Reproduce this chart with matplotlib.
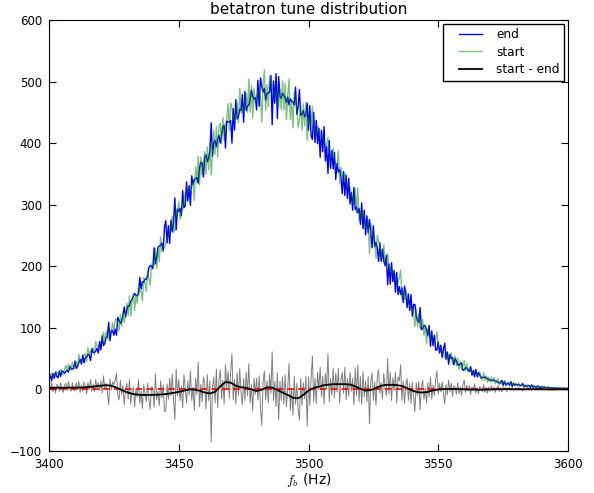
import matplotlib
matplotlib.use('Agg')
import matplotlib.pyplot as plt
from matplotlib.lines import Line2D
from matplotlib.legend_handler import HandlerLine2D
import numpy as np

plt.rcParams.update({'font.size': 9, 'mathtext.fontset': 'cm'})

# counts at the end of the store, 0.5 Hz bins from 3400 to 3600 Hz
end = [
    17, 23, 14, 26, 18, 28, 21, 19, 30, 21, 30, 29, 26, 29, 31, 28, 37, 34, 33, 34,
    46, 34, 37, 44, 49, 41, 56, 43, 52, 52, 57, 56, 47, 66, 60, 60, 62, 67, 59, 78,
    64, 87, 71, 75, 84, 86, 109, 79, 95, 96, 88, 98, 88, 117, 112, 107, 111, 120, 134, 118,
    130, 136, 136, 143, 146, 151, 156, 153, 152, 155, 182, 163, 175, 174, 179, 179, 184, 198, 201, 200,
    196, 230, 204, 214, 231, 233, 234, 238, 225, 264, 274, 238, 266, 237, 275, 256, 272, 311, 259, 293,
    289, 294, 282, 323, 295, 298, 337, 306, 331, 299, 347, 333, 341, 343, 344, 335, 360, 369, 368, 345,
    377, 381, 370, 375, 387, 433, 379, 401, 404, 394, 407, 413, 400, 414, 427, 429, 392, 436, 434, 434,
    437, 400, 456, 421, 471, 439, 443, 455, 453, 479, 434, 484, 453, 460, 462, 472, 486, 476, 471, 474,
    454, 502, 460, 506, 492, 483, 489, 470, 481, 481, 483, 510, 430, 501, 465, 513, 440, 508, 476, 473,
    481, 478, 474, 466, 475, 462, 472, 468, 467, 462, 491, 447, 458, 487, 445, 447, 453, 443, 445, 465,
    421, 461, 412, 406, 450, 401, 437, 399, 424, 377, 421, 386, 427, 371, 395, 351, 404, 359, 388, 358,
    385, 341, 367, 353, 357, 345, 318, 354, 315, 348, 310, 343, 301, 320, 291, 328, 292, 296, 287, 294,
    268, 303, 261, 291, 251, 282, 254, 276, 257, 230, 266, 232, 239, 230, 208, 238, 208, 228, 209, 201,
    218, 170, 204, 171, 206, 175, 193, 158, 190, 154, 167, 154, 165, 141, 168, 155, 133, 155, 128, 154,
    119, 138, 138, 120, 112, 109, 133, 97, 99, 104, 103, 97, 87, 104, 70, 95, 71, 88, 64, 64,
    77, 59, 72, 52, 66, 75, 49, 61, 41, 57, 50, 52, 40, 50, 46, 40, 39, 42, 43, 31,
    32, 35, 35, 31, 29.5, 37, 23, 31, 20.5, 32.5, 20.5, 27.5, 23.5, 18.5, 19.5, 19.5, 20, 19, 17.5, 15.5,
    15.4, 14.3, 14.6, 15, 13.9, 12.9, 11.3, 10.3, 10.8, 14.8, 6.4, 13.5, 7.2, 9.5, 10.2, 6.4, 12.7, 4.9, 10.2, 6.4,
    8.2, 7.2, 7.8, 6.1, 6.9, 9.6, 4.1, 6.7, 4.9, 5.6, 6.2, 3.1, 7.6, 3.5, 5.4, 3.6, 3.8, 5.9, 2.3, 4.4,
    3.8, 3.0, 3.6, 2.7, 3.0, 3.2, 2.3, 2.8, 2.1, 2.5, 2.3, 1.7, 2.4, 1.7, 2.2, 1.6, 1.8, 2.1, 1.3, 1.7, 1.8,
]

# counts at the start of the store, same bins
start = [
    26, 22, 26, 22, 23, 22, 29, 25, 27, 32, 30, 24, 33, 39, 29, 41, 38, 31, 44, 33,
    44, 45, 37, 57, 44, 48, 53, 55, 58, 45, 68, 56, 63, 63, 68, 56, 78, 70, 70, 76,
    78, 81, 93, 76, 94, 82, 84, 96, 94, 108, 96, 113, 114, 108, 95, 122, 103, 126, 109, 119,
    140, 120, 152, 119, 144, 155, 128, 153, 140, 171, 159, 160, 144, 182, 172, 159, 194, 182, 169, 204,
    199, 201, 229, 197, 228, 207, 248, 224, 232, 229, 238, 247, 250, 255, 265, 281, 255, 262, 292, 283,
    305, 276, 287, 293, 319, 300, 315, 320, 322, 329, 329, 337, 307, 361, 336, 379, 332, 377, 348, 365,
    386, 349, 394, 357, 401, 348, 382, 421, 382, 427, 377, 427, 432, 399, 442, 405, 432, 438, 464, 420,
    466, 458, 439, 437, 447, 466, 433, 489, 449, 454, 452, 466, 481, 450, 504, 450, 494, 441, 489, 466,
    472, 485, 482, 476, 434, 496, 519, 453, 495, 459, 508, 504, 491, 483, 478, 485, 467, 458, 489, 455,
    501, 454, 497, 438, 478, 504, 438, 470, 425, 483, 467, 457, 426, 437, 463, 421, 464, 428, 466, 405,
    441, 435, 430, 460, 430, 419, 414, 427, 424, 413, 409, 408, 403, 397, 397, 409, 384, 377, 378, 392,
    371, 367, 363, 387, 335, 361, 346, 348, 351, 331, 328, 332, 329, 317, 309, 303, 327, 286, 327, 274,
    289, 279, 290, 279, 265, 262, 275, 220, 270, 257, 248, 244, 213, 250, 240, 232, 219, 213, 235, 203,
    208, 220, 196, 199, 188, 194, 191, 186, 168, 174, 181, 194, 147, 155, 146, 162, 151, 137, 138, 131,
    131, 127, 102, 131, 102, 122, 100, 102, 114, 88, 105, 75, 98, 92, 90, 79, 78, 78, 80, 94,
    69, 69, 68, 64, 60, 52, 57, 52, 56, 53, 60, 41, 46, 54, 38, 51, 32, 46, 33, 39,
    47, 30, 42, 28, 35.5, 29, 27, 29, 29.5, 26.5, 23.5, 20.5, 28.5, 20.5, 15.5, 27.5, 15, 22, 11.5, 19.5,
    12.4, 20.3, 12.6, 19, 8.9, 14.9, 17.3, 7.3, 13.8, 10.8, 10.4, 12.5, 10.2, 5.5, 12.2, 9.4, 10.7, 7.9, 8.2, 7.4,
    10.2, 5.7, 10.8, 5.1, 7.9, 7.1, 6.1, 7.2, 3.4, 8.1, 5.2, 4.6, 5.6, 4.5, 5.9, 2.1, 5.8, 4.9, 3.3, 3.9,
    4.8, 2.5, 4.8, 1.9, 3.5, 4.2, 1.6, 3.1, 1.1, 3.3, 2.5, 1.1, 3.3, 1.3, 2.7, 0.8, 2.2, 2.7, 0.8, 2.0, 2.0,
]

# smoothed start - end, 2 Hz steps
smooth = [
    2.5, 2.7, 2.8, 2.8, 3.0, 3.0, 3.0, 3.5, 4.2, 5.0,
    6.0, 7.0, 6.0, 3.0, -1.0, -4.5, -7.0, -8.5, -9.0, -9.0,
    -8.8, -8.5, -8.0, -7.0, -5.5, -4.0, -2.0, 0.0, -0.5, -2.0,
    -5.0, -6.5, -4.0, 5.0, 12.0, 11.0, 6.0, 3.5, 2.5, 0.0,
    -2.5, -0.5, 3.5, 3.0, -1.0, -5.0, -9.0, -13.5, -14.5, -9.0,
    -2.0, 2.5, 4.5, 7.0, 8.0, 8.5, 8.5, 8.5, 8.0, 5.0,
    1.0, -2.0, -1.0, 2.5, 6.0, 7.5, 7.5, 7.0, 5.5, 2.0,
    -2.0, -4.5, -5.0, -4.0, -1.5, 0.0, 0.5, 0.8, 0.8, 0.5,
    0.0, 0.0, -0.3, -0.5, -0.3, 0.0, 0.3, 0.3, 0.5, 0.5,
    0.3, 0.2, 0.3, 0.4, 0.3, 0.2, 0.0, 0.0, 0.1, 0.1,
    0.0,
]

end = np.array(end, dtype=float)
start = np.array(start, dtype=float)
assert len(end) == len(start)
diff = start - end
freq = np.linspace(3400, 3600, len(end))
freq_s = np.linspace(3400, 3600, len(smooth))

fig = plt.figure(figsize=(5.94, 4.93), dpi=100)
ax = fig.add_axes([49/594, 42/493, 519/594, 431/493])

ax.plot(freq, end, color='b', lw=1, label='end')
ax.plot(freq, start, color='g', lw=1, alpha=0.5, label='start')
ax.plot(freq, diff, color='k', lw=0.7, alpha=0.5)
ax.axhline(0, color='r', ls='--', dashes=(4, 2.5), lw=1.2)
ax.plot(freq_s, smooth, color='k', lw=1.3, label='start - end')

ax.set_xlim(3400, 3600)
ax.set_ylim(-100, 600)
ax.set_xticks([3400, 3450, 3500, 3550, 3600])
ax.set_yticks(range(-100, 601, 100))
ax.tick_params(direction='in', top=True, right=True, length=5, labelsize=8.5, pad=5)
ax.set_title('betatron tune distribution', fontsize=11, pad=4)
ax.set_xlabel('$f_b$ (Hz)', fontsize=10, labelpad=0)
ax.legend(loc='upper right', fontsize=8.7, fancybox=False, edgecolor='k',
          framealpha=1, labelspacing=0.35, borderaxespad=0.3,
          handlelength=2.8, handletextpad=1.15,
          handler_map={Line2D: HandlerLine2D(xpad=0.9)})

fig.savefig('out.png', dpi=100, facecolor='white')
